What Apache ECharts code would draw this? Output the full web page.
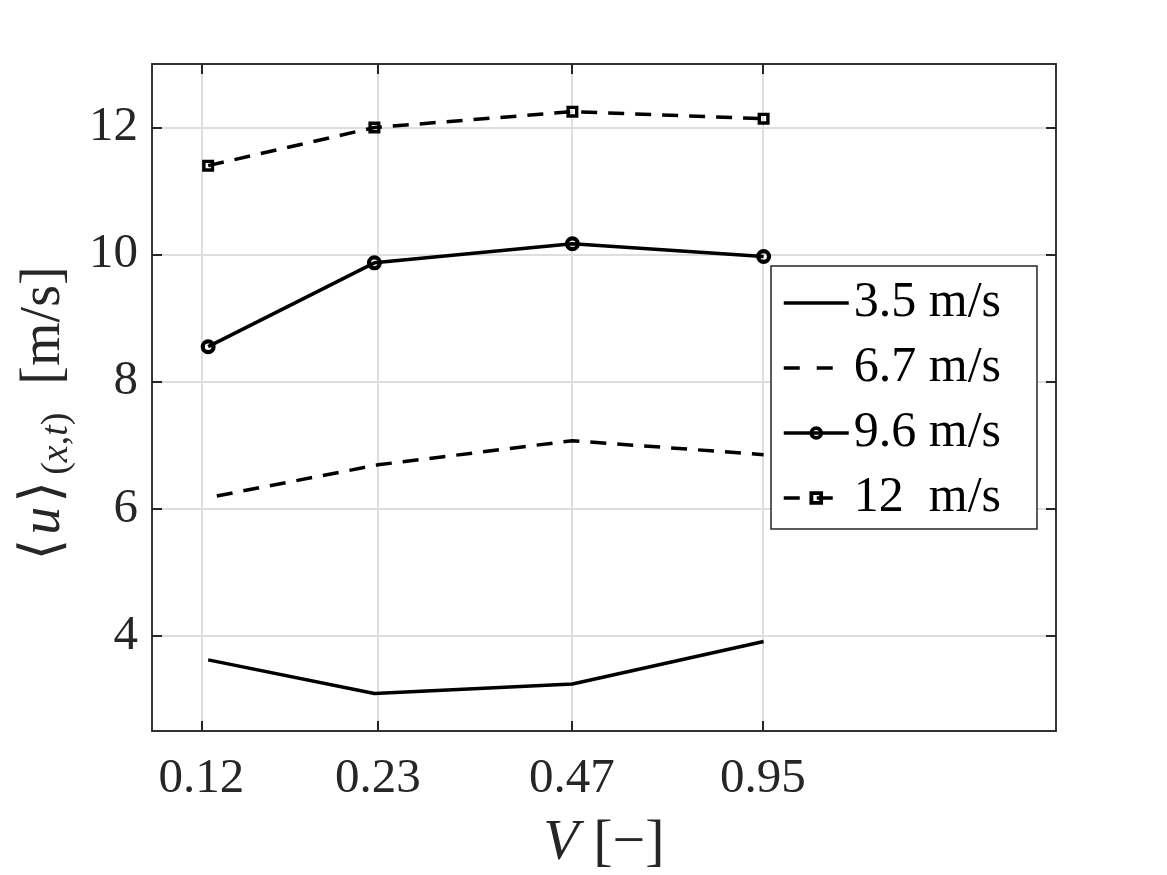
<!DOCTYPE html>
<html>
<head>
<meta charset="utf-8">
<script src="https://cdn.jsdelivr.net/npm/echarts@6/dist/echarts.min.js"></script>
<style>
  html, body { margin: 0; padding: 0; background: #fff; }
  #main { width: 1167px; height: 875px; }
</style>
</head>
<body>
<div id="main"></div>
<script>
// data
var xTicks = [0.12, 0.23, 0.47, 0.95];
var xTickLabels = ['0.12', '0.23', '0.47', '0.95'];
var yTicks = [4, 6, 8, 10, 12];
var xMin = 0.1, xMax = 2.8;
var yMin = 2.5, yMax = 13;

var names = ['3.5 m/s', '6.7 m/s', '9.6 m/s', '12  m/s'];

var v35 = [0.123, 0.227, 0.471, 0.953];
var u35 = [3.62, 3.09, 3.24, 3.91];

var v67 = [0.127, 0.230, 0.471, 0.953];
var u67 = [6.20, 6.69, 7.07, 6.85];

var v96 = [0.123, 0.227, 0.471, 0.953];
var u96 = [8.55, 9.87, 10.17, 9.97];

var v12 = [0.123, 0.227, 0.471, 0.953];
var u12 = [11.40, 12.00, 12.25, 12.14];

var FONT = '"Liberation Serif", "DejaVu Serif", serif';
var AX = '#262626';

// open markers like matlab (no fill, the line shows through)
var RING = 'path://M0,-7.5A7.5,7.5,0,1,1,0,7.5A7.5,7.5,0,1,1,0,-7.5Z' +
	'M0,-3.3A3.3,3.3,0,1,0,0,3.3A3.3,3.3,0,1,0,0,-3.3Z';
var BOX = 'path://M-6,-6H6V6H-6ZM-2.6,-2.6V2.6H2.6V-2.6Z';

function lg(v) { return Math.log10(v); }
function pts(xs, ys) {
	var out = [];
	for (var i = 0; i < xs.length; i++) out.push([lg(xs[i]), ys[i]]);
	return out;
}

var xTickPos = xTicks.map(lg);
function xLabel(val) {
	for (var i = 0; i < xTickPos.length; i++) {
		if (Math.abs(xTickPos[i] - val) < 1e-6) return xTickLabels[i];
	}
	return '';
}

var myChart = echarts.init(document.getElementById('main'));

var option = {
	animation: false,
	backgroundColor: '#fff',
	grid: {
		left: 152, top: 64, width: 904, height: 667,
		outerBoundsMode: 'none',
		containLabel: false,
		show: true, borderColor: AX, borderWidth: 1.5, backgroundColor: 'transparent'
	},
	legend: {
		data: [
			{ name: names[0], itemStyle: { opacity: 0 } },
			{ name: names[1], itemStyle: { opacity: 0 }, lineStyle: { width: 3.5, type: [16, 17] } },
			{ name: names[2] },
			{ name: names[3], lineStyle: { width: 3.5, type: [16, 17] } }
		],
		orient: 'vertical',
		left: 771, top: 266,
		padding: [12, 36, 6, 11],
		itemWidth: 65, itemHeight: 17, itemGap: 15,
		backgroundColor: '#fff',
		borderColor: AX, borderWidth: 1.5,
		borderRadius: 0,
		lineStyle: { width: 3.5 },
		textStyle: { fontFamily: FONT, fontSize: 50, color: '#000', lineHeight: 50 },
		z: 10
	},
	xAxis: [{
		type: 'value',
		min: lg(xMin), max: lg(xMax),
		name: '{i|V}{n| [\u2212]}',
		nameLocation: 'middle',
		nameGap: 84,
		nameTextStyle: {
			rich: {
				i: { fontFamily: FONT, fontSize: 58, fontStyle: 'italic', color: AX },
				n: { fontFamily: FONT, fontSize: 58, color: AX }
			}
		},
		axisLine: { show: true, onZero: false, lineStyle: { color: AX, width: 1.5 } },
		axisTick: { show: true, inside: true, length: 10, customValues: xTickPos, lineStyle: { color: AX, width: 2 } },
		axisLabel: {
			customValues: xTickPos,
			formatter: xLabel,
			margin: 24,
			fontFamily: FONT, fontSize: 49, color: AX
		},
		splitLine: { show: true, lineStyle: { color: '#dedede', width: 2 } }
	}, {
		type: 'value',
		position: 'top',
		min: lg(xMin), max: lg(xMax),
		axisLine: { show: true, onZero: false, lineStyle: { color: AX, width: 1.5 } },
		axisTick: { show: true, inside: true, length: 10, customValues: xTickPos, lineStyle: { color: AX, width: 2 } },
		axisLabel: { show: false },
		splitLine: { show: false }
	}],
	yAxis: [{
		type: 'value',
		min: yMin, max: yMax,
		name: '{l|\u27e8}{i|u}{r|\u27e9}{sp|(}{si|x}{sp|,}{si|t}{sp|)}{a|  [m/s]}',
		nameLocation: 'middle',
		nameGap: 76,
		nameRotate: 90,
		nameTextStyle: {
			rich: {
				l: { fontFamily: FONT, fontSize: 56, color: AX, lineHeight: 64, verticalAlign: 'middle', padding: [0, 4, 0, 0] },
				r: { fontFamily: FONT, fontSize: 56, color: AX, lineHeight: 64, verticalAlign: 'middle', padding: [0, 6, 0, 4] },
				a: { fontFamily: FONT, fontSize: 56, color: AX, lineHeight: 64, verticalAlign: 'middle', padding: [0, 32, 0, 0] },
				i: { fontFamily: FONT, fontSize: 56, fontStyle: 'italic', color: AX, lineHeight: 64, verticalAlign: 'middle' },
				sp: { fontFamily: FONT, fontSize: 38, color: AX, lineHeight: 38, verticalAlign: 'bottom' },
				si: { fontFamily: FONT, fontSize: 38, fontStyle: 'italic', color: AX, lineHeight: 38, verticalAlign: 'bottom' }
			}
		},
		axisLine: { show: true, onZero: false, lineStyle: { color: AX, width: 1.5 } },
		axisTick: { show: true, inside: true, length: 10, customValues: yTicks, lineStyle: { color: AX, width: 2 } },
		axisLabel: {
			customValues: yTicks,
			margin: 14,
			fontFamily: FONT, fontSize: 49, color: AX
		},
		splitLine: { show: true, lineStyle: { color: '#dedede', width: 2 } }
	}, {
		type: 'value',
		position: 'right',
		min: yMin, max: yMax,
		axisLine: { show: true, onZero: false, lineStyle: { color: AX, width: 1.5 } },
		axisTick: { show: true, inside: true, length: 10, customValues: yTicks, lineStyle: { color: AX, width: 2 } },
		axisLabel: { show: false },
		splitLine: { show: false }
	}],
	series: [
		{
			name: names[0], type: 'line',
			data: pts(v35, u35),
			symbol: 'none',
			lineStyle: { color: '#000', width: 3.5 },
			itemStyle: { color: '#000' }
		},
		{
			name: names[1], type: 'line',
			data: pts(v67, u67),
			symbol: 'none',
			lineStyle: { color: '#000', width: 3.5, type: [16, 11] },
			itemStyle: { color: '#000' }
		},
		{
			name: names[2], type: 'line',
			data: pts(v96, u96),
			symbol: RING, symbolSize: 15,
			lineStyle: { color: '#000', width: 3.5 },
			itemStyle: { color: '#000', borderWidth: 0 }
		},
		{
			name: names[3], type: 'line',
			data: pts(v12, u12),
			symbol: BOX, symbolSize: 12,
			lineStyle: { color: '#000', width: 3.5, type: [16, 11] },
			itemStyle: { color: '#000', borderWidth: 0 }
		}
	]
};

myChart.setOption(option);
</script>
</body>
</html>
